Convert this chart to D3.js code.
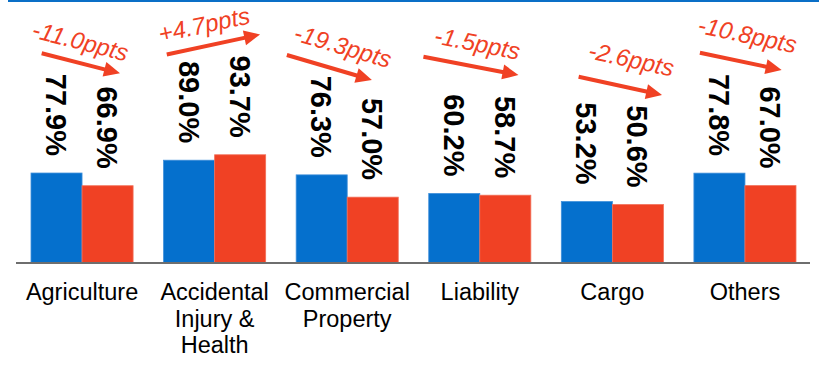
<!DOCTYPE html>
<html>
<head>
<meta charset="utf-8">
<script src="https://cdn.jsdelivr.net/npm/d3@7"></script>
<style>
  body { margin: 0; background: #fff; }
  svg { display: block; font-family: "Liberation Sans", Arial, sans-serif; }
</style>
</head>
<body>
<svg id="chart" width="819" height="366"></svg>
<script>
/*** DATA ***/
var categories = ["Agriculture", "Accidental\nInjury &\nHealth", "Commercial\nProperty", "Liability", "Cargo", "Others"];
var series     = ["before", "after"];
var before     = [77.9, 89.0, 76.3, 60.2, 53.2, 77.8];
var after      = [66.9, 93.7, 57.0, 58.7, 50.6, 67.0];

// hand-placed change arrows: offsets from the group's left edge, y in px
var arrow_layout = [
    {x1: 10.7, y1: 53.3, x2: 89.0,  y2: 73.3, along: -6, perp: 13},
    {x1: 3.2,  y1: 54.5, x2: 96.5,  y2: 34.5, along: -5, perp: 13},
    {x1: -9.3, y1: 55.0, x2: 75.7,  y2: 80.0, along: 7,  perp: 16},
    {x1: -5.3, y1: 56.7, x2: 89.7,  y2: 75.0, along: 2,  perp: 15},
    {x1: 17.3, y1: 76.7, x2: 100.7, y2: 95.0, along: 5,  perp: 20},
    {x1: 6.0,  y1: 52.7, x2: 87.7,  y2: 70.0, along: 1,  perp: 19}
];

var colors = {before: "#0570CD", after: "#F04124"};

/*** SETUP ***/
var svg = d3.select("#chart");
var baseline = 263;

var x0 = d3.scaleBand()
    .domain(d3.range(categories.length))
    .range([31, 796])
    .paddingInner(0.23)
    .paddingOuter(0);

var x1 = d3.scaleBand()
    .domain(series)
    .range([0, x0.bandwidth()]);

var y = d3.scaleLinear()
    .domain([0, 100])
    .range([baseline, baseline - 115.5]);

// top blue rule
svg.append("line")
    .attr("x1", 8).attr("x2", 819)
    .attr("y1", 1).attr("y2", 1)
    .attr("stroke", "#0A6FC7")
    .attr("stroke-width", 2);

/*** BARS ***/
var groups = svg.selectAll("g.group")
    .data(categories.map(function(c, i) {
        return {i: i, before: before[i], after: after[i]};
    }))
    .enter().append("g")
    .attr("class", "group")
    .attr("transform", function(d) { return "translate(" + x0(d.i) + ",0)"; });

groups.selectAll("rect")
    .data(function(d) { return series.map(function(s) { return {s: s, v: d[s]}; }); })
    .enter().append("rect")
    .attr("x", function(d) { return x1(d.s); })
    .attr("y", function(d) { return y(d.v); })
    .attr("width", x1.bandwidth())
    .attr("height", function(d) { return baseline - y(d.v); })
    .attr("fill", function(d) { return colors[d.s]; })
    .attr("stroke", function(d) { return d.s == "before" ? "#3F8FDA" : "#F26F58"; })
    .attr("stroke-width", 0.8);

// rotated value labels
groups.selectAll("text.val")
    .data(function(d) { return series.map(function(s) { return {s: s, v: d[s]}; }); })
    .enter().append("text")
    .attr("class", "val")
    .attr("transform", function(d) {
        return "translate(" + (x1(d.s) + x1.bandwidth() / 2) + "," + (y(d.v) - 17) + ") rotate(90)";
    })
    .attr("text-anchor", "end")
    .attr("dy", "0.36em")
    .attr("font-size", 29)
    .attr("font-weight", "bold")
    .attr("fill", "#000")
    .text(function(d) { return d.v.toFixed(1) + "%"; });

// axis baseline
svg.append("line")
    .attr("x1", 16).attr("x2", 810)
    .attr("y1", baseline).attr("y2", baseline)
    .attr("stroke", "#6E6E6E")
    .attr("stroke-width", 2.2);

// category labels
var cat = svg.selectAll("text.cat")
    .data(categories)
    .enter().append("text")
    .attr("class", "cat")
    .attr("x", function(d, i) { return x0(i) + x0.bandwidth() / 2; })
    .attr("y", 300)
    .attr("text-anchor", "middle")
    .attr("font-size", 23.5)
    .attr("fill", "#000");

cat.each(function(d) {
    var t = d3.select(this);
    d.split("\n").forEach(function(line, k) {
        t.append("tspan")
            .attr("x", t.attr("x"))
            .attr("dy", k == 0 ? 0 : 26.5)
            .text(line);
    });
});

/*** CHANGE ARROWS ***/
arrow_layout.forEach(function(a, i) {
    var gx = x0(i),
        ax1 = gx + a.x1, ay1 = a.y1,
        ax2 = gx + a.x2, ay2 = a.y2,
        ang = Math.atan2(ay2 - ay1, ax2 - ax1),
        len = Math.hypot(ax2 - ax1, ay2 - ay1),
        head = 16, half = 7.5;

    var g = svg.append("g")
        .attr("transform", "translate(" + ax1 + "," + ay1 + ") rotate(" + (ang * 180 / Math.PI) + ")");

    g.append("line")
        .attr("x1", 0).attr("y1", 0)
        .attr("x2", len - head + 1).attr("y2", 0)
        .attr("stroke", colors.after)
        .attr("stroke-width", 4);

    g.append("path")
        .attr("d", "M" + len + ",0L" + (len - head) + "," + (-half) + "L" + (len - head) + "," + half + "Z")
        .attr("fill", colors.after);

    var diff = after[i] - before[i];
    g.append("text")
        .attr("x", len / 2 + a.along)
        .attr("y", -a.perp)
        .attr("text-anchor", "middle")
        .attr("font-size", 24)
        .attr("font-style", "italic")
        .attr("fill", colors.after)
        .text((diff > 0 ? "+" : "") + diff.toFixed(1) + "ppts");
});
</script>
</body>
</html>
